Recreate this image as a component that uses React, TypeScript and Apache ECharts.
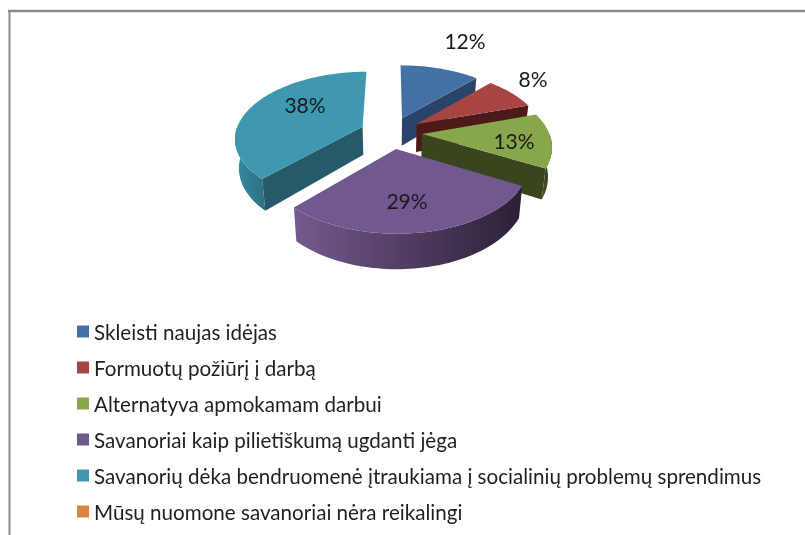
import React, { useEffect, useRef } from "react";
import * as echarts from "echarts";

const CATEGORIES = [
  "Skleisti naujas idėjas",
  "Formuotų požiūrį į darbą",
  "Alternatyva apmokamam darbui",
  "Savanoriai kaip pilietiškumą ugdanti jėga",
  "Savanorių dėka bendruomenė įtraukiama į socialinių problemų sprendimus",
  "Mūsų nuomone savanoriai nėra reikalingi",
];
const VALUES = [12, 8, 13, 29, 38, 0];

const TOP_COLORS = ["#4470A5", "#A84442", "#88A64B", "#71588F", "#3F98AF", "#DD843A"];
const SIDE_COLORS = ["#2A4469", "#4C1A19", "#3A451F", "#3E3050", "#255B69", "#8A5020"];
const RIM_COLORS: [string, string][] = [
  ["#2A4469", "#2A4469"],
  ["#4C1A19", "#4C1A19"],
  ["#3F4B22", "#36411C"],
  ["#75598F", "#2B2036"],
  ["#37899F", "#2A7082"],
  ["#8A5020", "#8A5020"],
];
const LABEL_ANCHORS: [number, number][] = [
  [465, 40.5],
  [533, 78.5],
  [514, 140.5],
  [407, 200.5],
  [305, 104.5],
  [0, 0],
];

// 3-D view of the pie
const CX = 391;
const CY = 132.5;
const R = 127;
const EXPLODE = 31;
const TILT = 0.515;
const DIST = 797;
const DEPTH = 28.5;
const BOTTOM_SHRINK = 0.025;

const TOTAL = VALUES.reduce((a, b) => a + b, 0);

function project(X: number, Z: number, down = 0): [number, number] {
  const s = DIST / (DIST + Z);
  const shrink = 1 - (BOTTOM_SHRINK * down) / DEPTH;
  return [CX + s * X * shrink, CY - s * TILT * Z + down * s];
}

function sliceShapes(index: number, value: number) {
  if (!value) return { type: "group", children: [] };
  const before = VALUES.slice(0, index).reduce((a, b) => a + b, 0);
  const a0 = (before / TOTAL) * Math.PI * 2;
  const a1 = ((before + value) / TOTAL) * Math.PI * 2;
  const mid = (a0 + a1) / 2;
  const ox = EXPLODE * Math.sin(mid);
  const oz = EXPLODE * Math.cos(mid);
  const edge = (a: number, down = 0) =>
    project(ox + R * Math.sin(a), oz + R * Math.cos(a), down);
  const apex = (down = 0) => project(ox, oz, down);
  const arc = (from: number, to: number, down = 0) => {
    const n = Math.max(2, Math.ceil(Math.abs(to - from) / 0.03));
    const pts: [number, number][] = [];
    for (let i = 0; i <= n; i++) pts.push(edge(from + ((to - from) * i) / n, down));
    return pts;
  };
  const children: any[] = [];
  const poly = (points: [number, number][], fill: any) =>
    children.push({
      type: "polygon",
      shape: { points },
      style: { fill, stroke: "none" },
    });

  if (Math.sin(a0) < -0.001) {
    poly([apex(), edge(a0), edge(a0, DEPTH), apex(DEPTH)], SIDE_COLORS[index]);
  }
  if (Math.sin(a1) > 0.001) {
    poly([apex(), edge(a1), edge(a1, DEPTH), apex(DEPTH)], SIDE_COLORS[index]);
  }
  const rimFrom = Math.max(a0, Math.PI / 2);
  const rimTo = Math.min(a1, (Math.PI * 3) / 2);
  if (rimTo > rimFrom) {
    const upper = arc(rimFrom, rimTo);
    const lower = arc(rimFrom, rimTo, DEPTH).reverse();
    const [c0, c1] = RIM_COLORS[index];
    poly(
      [...upper, ...lower],
      new echarts.graphic.LinearGradient(0, 0, 1, 0, [
        { offset: 0, color: c0 },
        { offset: 1, color: c1 },
      ])
    );
  }
  poly([apex(), ...arc(a0, a1)], TOP_COLORS[index]);
  const [lx, ly] = LABEL_ANCHORS[index];
  children.push({
    type: "text",
    x: lx,
    y: ly,
    z2: 100,
    style: {
      text: `${value}%`,
      fill: "#1a1a1a",
      font: "21px Lato",
      align: "center",
      verticalAlign: "middle",
    },
  });
  return { type: "group", children };
}

export default function App() {
  const ref = useRef<HTMLDivElement>(null);
  useEffect(() => {
    if (!ref.current) return;
    const chart = echarts.init(ref.current, undefined, { renderer: "svg" });
    chart.setOption({
      animation: false,
      backgroundColor: "#ffffff",
      legend: {
        show: true,
        orient: "vertical",
        left: 77,
        top: 321,
        padding: 0,
        icon: "rect",
        itemWidth: 12,
        itemHeight: 12,
        itemGap: 15,
        selectedMode: false,
        data: CATEGORIES,
        textStyle: { fontFamily: "Lato", fontSize: 20.6, color: "#1f1f1f", lineHeight: 20 },
      },
      graphic: [
        {
          type: "line",
          shape: { x1: 9.5, y1: 11, x2: 9.5, y2: 535 },
          style: { stroke: "#8c8c8c", lineWidth: 2 },
        },
        {
          type: "line",
          shape: { x1: 8, y1: 11, x2: 805, y2: 11 },
          style: { stroke: "#8c8c8c", lineWidth: 2.5 },
        },
      ],
      series: CATEGORIES.map((name, i) => ({
        type: "custom",
        name,
        coordinateSystem: "none",
        itemStyle: { color: TOP_COLORS[i] },
        data: [VALUES[i]],
        renderItem: (_p: any, api: any) => sliceShapes(i, api.value(0)),
      })),
    });
    return () => chart.dispose();
  }, []);
  return (
    <div
      ref={ref}
      style={{
        position: "absolute",
        left: 0,
        top: 0,
        width: 805,
        height: 535,
        filter: "blur(0.5px)",
      }}
    />
  );
}
